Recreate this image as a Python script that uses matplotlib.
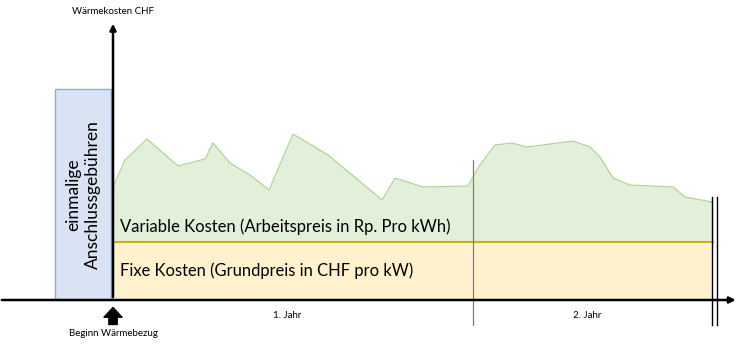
import matplotlib.pyplot as plt
import numpy as np

plt.rcParams['font.family'] = ['Lato', 'DejaVu Sans']

# time in months since start of heat supply, cost in arbitrary CHF units
months = [0, 0.4, 1.13, 2.17, 3.07, 3.33, 3.9, 4.57, 5.2, 6.0, 7.17, 8.97, 9.4,
          10.33, 11.83, 12.23, 12.73, 13.3, 13.8, 14.57, 15.33, 15.9, 16.23,
          16.67, 17.23, 18.67, 19.07, 19.97]
total_cost = [11.3, 14.0, 16.1, 13.4, 14.1, 15.7, 13.7, 12.5, 11.0, 16.6, 14.5,
              10.0, 12.2, 11.3, 11.4, 13.5, 15.5, 15.7, 15.3, 15.6, 15.9, 15.3,
              14.3, 12.2, 11.5, 11.3, 10.3, 9.8]
fixed_cost = 5.8
connection_fee = 21.1
end_month = 20.0
year_ticks = [6, 16]
year_labels = ["1. Jahr", "2. Jahr"]

fig = plt.figure(figsize=(7.43, 3.46), dpi=100)
ax = fig.add_axes([0, 0, 1, 1])
ax.set_xlim(-3.767, 21.0)
ax.set_ylim(-4.6, 30)
ax.axis('off')

# variable costs (green area)
x = months + [end_month, end_month]
y = total_cost + [total_cost[-1], fixed_cost]
ax.fill_between(x, fixed_cost, y, color='#e2efd9', lw=0)
ax.plot(months + [end_month - 0.1], total_cost + [total_cost[-1]], color='#a9d18e', lw=0.8)

# fixed costs (yellow area)
ax.fill_between([0, end_month], 0, fixed_cost, color='#fff2cc', lw=0)
ax.plot([0, end_month], [fixed_cost, fixed_cost], color='#c9b200', lw=1.5)

# one-off connection fee
ax.bar(-1.0, connection_fee, width=1.87, color='#dae3f3', edgecolor='#8faadc', lw=1)
ax.text(-1.0, connection_fee * 0.5, "einmalige\nAnschlussgebühren", rotation=90,
        ha='center', va='center', fontsize=12.5, linespacing=1.3)

# axes
ax.annotate("", xy=(0, 27.9), xytext=(0, 0),
            arrowprops=dict(arrowstyle='-|>', color='black', lw=1.8, mutation_scale=9))
ax.annotate("", xy=(20.85, 0), xytext=(-3.8, 0),
            arrowprops=dict(arrowstyle='-|>', color='black', lw=1.8, mutation_scale=9))
ax.text(0, 28.9, "Wärmekosten CHF", ha='center', va='center', fontsize=7)

# year separators
ax.plot([12, 12], [-2.5, 14.0], color='#7f7f7f', lw=0.9)
ax.plot([19.97, 19.97], [-2.5, 10.3], color='black', lw=1)
ax.plot([20.13, 20.13], [-2.5, 10.3], color='black', lw=1)
for t, lab in zip(year_ticks, year_labels):
    ax.text(t - 0.2, -1.6, lab, ha='center', va='center', fontsize=7)

# start marker
ax.annotate("", xy=(0, -0.75), xytext=(0, -2.45),
            arrowprops=dict(arrowstyle='simple,head_width=1.3,head_length=0.7,tail_width=0.6',
                            color='black', mutation_scale=10, shrinkA=0, shrinkB=0))
ax.text(0, -3.3, "Beginn Wärmebezug", ha='center', va='center', fontsize=7)

ax.text(0.23, 7.3, "Variable Kosten (Arbeitspreis in Rp. Pro kWh)", ha='left', va='center', fontsize=12)
ax.text(0.23, 2.9, "Fixe Kosten (Grundpreis in CHF pro kW)", ha='left', va='center', fontsize=11.9)

fig.savefig("out.png", dpi=100)
